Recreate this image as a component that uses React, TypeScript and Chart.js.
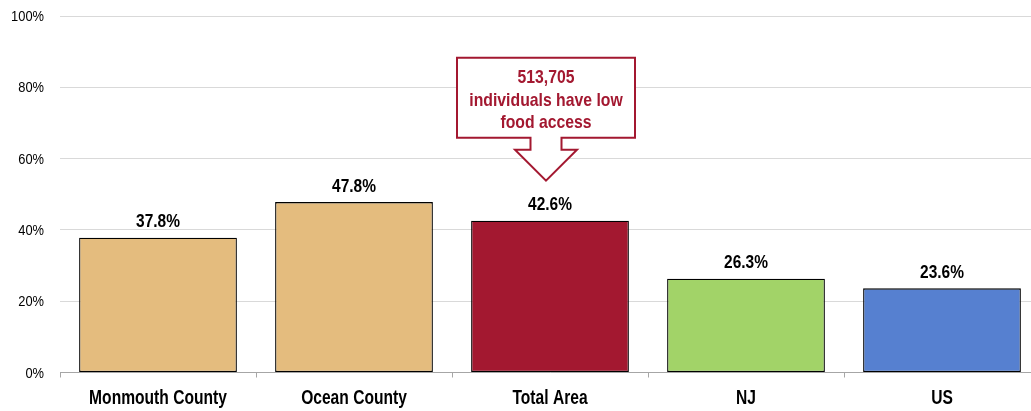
import React, { useEffect, useRef } from "react";
import { Chart, registerables } from "chart.js";

Chart.register(...registerables);

const categories = ["Monmouth County", "Ocean County", "Total Area", "NJ", "US"];
const lowAccessPct = [37.8, 47.8, 42.6, 26.3, 23.6];
const barColors = ["#E4BC7E", "#E4BC7E", "#A31830", "#A2D368", "#5680D0"];
const yTicks = [0, 20, 40, 60, 80, 100];
const calloutLines = ["513,705", "individuals have low", "food access"];
const calloutIndex = 2;

const FONT = "'Liberation Sans', Arial, sans-serif";
const RED = "#A31830";

function drawNarrow(
  ctx: CanvasRenderingContext2D,
  text: string,
  x: number,
  y: number,
  font: string,
  sx: number,
  color: string,
  align: CanvasTextAlign
) {
  ctx.save();
  ctx.translate(x, y);
  ctx.scale(sx, 1);
  ctx.font = font;
  ctx.fillStyle = color;
  ctx.textAlign = align;
  ctx.textBaseline = "alphabetic";
  ctx.fillText(text, 0, 0);
  ctx.restore();
}

const textPlugin = {
  id: "narrowText",
  afterDatasetsDraw(chart: any) {
    const ctx = chart.ctx;
    const meta = chart.getDatasetMeta(0);
    meta.data.forEach((bar: any, i: number) => {
      drawNarrow(ctx, lowAccessPct[i].toFixed(1) + "%", bar.x, bar.y - 10.5, `bold 18px ${FONT}`, 0.86, "#000", "center");
    });
    const xs = chart.scales.x;
    categories.forEach((c, i) => {
      drawNarrow(ctx, c, xs.getPixelForValue(i), xs.top + 31, `bold 19.5px ${FONT}`, 0.8, "#000", "center");
    });
    const ys = chart.scales.y;
    yTicks.forEach((v) => {
      drawNarrow(ctx, v + "%", ys.left + 44, ys.getPixelForValue(v) + 5, `14px ${FONT}`, 0.92, "#000", "right");
    });
  },
};

const calloutPlugin = {
  id: "callout",
  afterDraw(chart: any) {
    const ctx = chart.ctx;
    const bar = chart.getDatasetMeta(0).data[calloutIndex];
    const cx = bar.x - 4;
    const tip = bar.y - 40;
    const stemBottom = tip - 31;
    const rectBottom = stemBottom - 12;
    const rectTop = rectBottom - 80;
    const halfW = 89;
    const stemHalf = 15.5;
    const headHalf = 31;
    ctx.save();
    ctx.beginPath();
    ctx.moveTo(cx - halfW, rectTop);
    ctx.lineTo(cx + halfW, rectTop);
    ctx.lineTo(cx + halfW, rectBottom);
    ctx.lineTo(cx + stemHalf, rectBottom);
    ctx.lineTo(cx + stemHalf, stemBottom);
    ctx.lineTo(cx + headHalf, stemBottom);
    ctx.lineTo(cx, tip);
    ctx.lineTo(cx - headHalf, stemBottom);
    ctx.lineTo(cx - stemHalf, stemBottom);
    ctx.lineTo(cx - stemHalf, rectBottom);
    ctx.lineTo(cx - halfW, rectBottom);
    ctx.closePath();
    ctx.fillStyle = "#fff";
    ctx.fill();
    ctx.lineWidth = 2;
    ctx.strokeStyle = RED;
    ctx.stroke();
    ctx.restore();
    const baselines = [25, 48, 70];
    calloutLines.forEach((t, i) =>
      drawNarrow(ctx, t, cx, rectTop + baselines[i], `bold 19px ${FONT}`, 0.83, RED, "center")
    );
  },
};

export default function App() {
  const ref = useRef<HTMLCanvasElement>(null);
  useEffect(() => {
    if (!ref.current) return;
    const chart = new Chart(ref.current, {
      type: "bar",
      data: {
        labels: categories,
        datasets: [
          {
            data: lowAccessPct,
            backgroundColor: barColors,
            borderColor: "#000",
            borderWidth: 1.3,
            borderSkipped: false,
            barPercentage: 0.805,
            categoryPercentage: 1,
          },
        ],
      },
      options: {
        animation: false,
        responsive: false,
        maintainAspectRatio: false,
        layout: { padding: { top: 16, right: 0, left: 0, bottom: 0 } },
        plugins: { legend: { display: false }, tooltip: { enabled: false } },
        scales: {
          x: {
            afterFit(scale: any) {
              scale.height = 38.5;
            },
            grid: {
              offset: true,
              drawOnChartArea: false,
              drawTicks: true,
              tickLength: 5,
              color: "#A6A6A6",
            },
            border: { display: true, color: "#A6A6A6", width: 1 },
            ticks: {
              color: "rgba(0,0,0,0)",
              padding: 0,
              font: { family: FONT, size: 1 },
            },
          },
          y: {
            min: 0,
            max: 100,
            afterFit(scale: any) {
              scale.width = 60;
            },
            afterBuildTicks(scale: any) {
              scale.ticks = yTicks.map((v) => ({ value: v }));
            },
            grid: { color: "#D9D9D9", drawTicks: false, lineWidth: 1 },
            border: { display: false },
            ticks: {
              color: "rgba(0,0,0,0)",
              padding: 0,
              font: { family: FONT, size: 1 },
              callback: (v: any) => v + "%",
            },
          },
        },
      },
      plugins: [textPlugin, calloutPlugin],
    });
    return () => chart.destroy();
  }, []);
  return (
    <div
      style={{
        position: "fixed",
        left: 0,
        top: 0,
        width: 1031,
        height: 411,
        overflow: "hidden",
        background: "#fff",
      }}
    >
      <canvas ref={ref} width={1040} height={411} style={{ display: "block" }} />
    </div>
  );
}
